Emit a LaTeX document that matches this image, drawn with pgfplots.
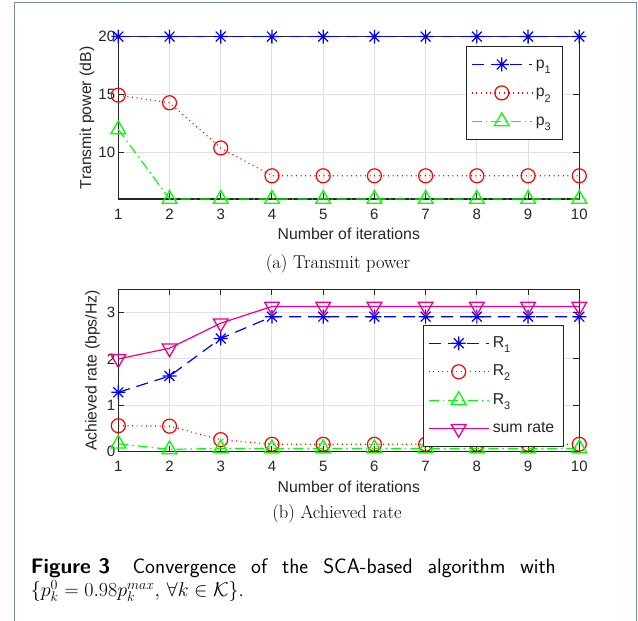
\RequirePackage{fix-cm}
\documentclass[border=0pt]{standalone}
\usepackage{pgfplots}
\pgfplotsset{compat=1.18}
\usepackage{fontspec}
\newfontfamily\arial{Liberation Sans}
\definecolor{axc}{RGB}{38,38,38}
\definecolor{gridc}{RGB}{224,224,224}
\definecolor{framec}{RGB}{120,138,165}
\pgfdeclareplotmark{mstar}{%
  \pgfpathmoveto{\pgfqpoint{0pt}{\pgfplotmarksize}}\pgfpathlineto{\pgfqpoint{0pt}{-\pgfplotmarksize}}%
  \pgfpathmoveto{\pgfqpoint{\pgfplotmarksize}{0pt}}\pgfpathlineto{\pgfqpoint{-\pgfplotmarksize}{0pt}}%
  \pgfpathmoveto{\pgfqpoint{.7071\pgfplotmarksize}{.7071\pgfplotmarksize}}\pgfpathlineto{\pgfqpoint{-.7071\pgfplotmarksize}{-.7071\pgfplotmarksize}}%
  \pgfpathmoveto{\pgfqpoint{.7071\pgfplotmarksize}{-.7071\pgfplotmarksize}}\pgfpathlineto{\pgfqpoint{-.7071\pgfplotmarksize}{.7071\pgfplotmarksize}}%
  \pgfusepathqstroke}
\newcommand{\lsub}[2]{#1\raisebox{-0.32em}{\fontsize{11}{11}\selectfont #2}}

\pgfplotstableread{
it p1 p2 p3
1 20 14.95 12.0
2 20 14.3 6.0
3 20 10.4 6.0
4 20 8.0 6.0
5 20 8.0 6.0
6 20 8.0 6.0
7 20 8.0 6.0
8 20 8.0 6.0
9 20 8.0 6.0
10 20 8.0 6.0
}\powtab
\pgfplotstableread{
it R1 R2 R3 sum
1 1.28 0.56 0.17 2.00
2 1.63 0.55 0.05 2.23
3 2.44 0.26 0.07 2.77
4 2.91 0.16 0.07 3.13
5 2.91 0.16 0.07 3.13
6 2.91 0.16 0.07 3.13
7 2.91 0.16 0.07 3.13
8 2.91 0.16 0.07 3.13
9 2.91 0.16 0.07 3.13
10 2.91 0.16 0.07 3.13
}\ratetab

\pgfplotsset{
  mystyle/.style={
    scale only axis, width=461pt, height=162.4pt,
    xmin=1, xmax=10, xtick={1,...,10},
    axis line style={axc, line width=1.3pt},
    tick style={axc, line width=1.0pt}, major tick length=6pt,
    tick align=inside, tick pos=both,
    grid=major, major grid style={gridc, line width=1pt},
    /pgf/number format/assume math mode=true,
    ticklabel style={font=\arial\fontsize{15}{15}\selectfont, text=axc},
    xticklabel style={anchor=base, yshift=-20.3pt},
    yticklabel style={anchor=east, inner xsep=0pt, xshift=-3pt},
    label style={font=\arial\fontsize{15.8}{16}\selectfont, text=axc},
    xlabel style={at={(axis description cs:0.5,-0.25)}, anchor=base},
    legend style={font=\arial\fontsize{15.8}{16}\selectfont, draw=axc, line width=1.2pt, text=axc,
      inner xsep=4.7pt, inner ysep=3.7pt, row sep=0pt, column sep=3.5pt,
      nodes={inner sep=0pt, text height=18.3pt, text depth=10.2pt}},
    legend cell align=left,
    legend image code/.code={\draw[mark repeat=2,mark phase=2] plot coordinates {(0pt,0pt)(30pt,0pt)(60pt,0pt)};},
    clip=false,
  },
  sblue/.style={color=blue, draw=blue, line width=1.2pt, dash pattern=on 12pt off 7pt, mark=mstar, mark size=7pt, mark options={solid, line width=1.2pt}},
  sred/.style={color=red, draw=red, line width=1.2pt, dash pattern=on 1pt off 3.6pt, mark=o, mark size=7pt, mark options={solid, line width=1.2pt}},
  sgreen/.style={color=green, draw=green, line width=1.2pt, dash pattern=on 10pt off 4pt on 1.5pt off 4pt, mark=triangle, mark size=8.5pt, mark options={solid, line width=1.3pt}},
  smag/.style={color=magenta, draw=magenta, line width=1.2pt, solid, mark=triangle, mark size=8.5pt, mark options={solid, line width=1.3pt, rotate=180}},
}

\begin{document}
\begin{tikzpicture}[x=1pt,y=1pt]
\useasboundingbox (0,0) rectangle (638,621);
\fill[white] (0,0) rectangle (638,621);
\draw[framec, line width=1pt] (14,-2) -- (14,618) -- (636.5,618) -- (636.5,-2);

% top axis
\begin{axis}[mystyle, at={(118.3pt,422pt)}, anchor=south west,
  ymin=6, ymax=20, ytick={10,15,20},
  xlabel={Number of iterations},
  ylabel={Transmit power (dB)},
  ylabel style={at={(axis description cs:-0.0679,0.5)}, anchor=center},
  legend style={at={(0.965,0.943)}, anchor=north east}]
\addplot[sblue] table[x=it,y=p1] {\powtab};
\addlegendentry{\makebox[22pt][l]{\lsub{p}{1}}}
\addplot[sred] table[x=it,y=p2] {\powtab};
\addlegendentry{\makebox[22pt][l]{\lsub{p}{2}}}
\addplot[sgreen] table[x=it,y=p3] {\powtab};
\addlegendentry{\makebox[22pt][l]{\lsub{p}{3}}}
\end{axis}

% bottom axis
\begin{axis}[mystyle, at={(118.3pt,169.3pt)}, anchor=south west,
  ymin=0, ymax=3.5, ytick={0,1,2,3},
  xlabel={Number of iterations},
  ylabel={Achieved rate (bps/Hz)},
  ylabel style={at={(axis description cs:-0.056,0.5)}, anchor=center},
  legend style={at={(0.967,0.027)}, anchor=south east}]
\addplot[sblue] table[x=it,y=R1] {\ratetab};
\addlegendentry{\makebox[66pt][l]{\lsub{R}{1}}}
\addplot[sred] table[x=it,y=R2] {\ratetab};
\addlegendentry{\makebox[66pt][l]{\lsub{R}{2}}}
\addplot[sgreen] table[x=it,y=R3] {\ratetab};
\addlegendentry{\makebox[66pt][l]{\lsub{R}{3}}}
\addplot[smag] table[x=it,y=sum] {\ratetab};
\addlegendentry{\makebox[66pt][l]{sum rate}}
\end{axis}

% sub-captions
\node[anchor=base, inner sep=0pt, font=\fontsize{18.5}{20}\selectfont] at (338,352.5) {(a) Transmit power};
\node[anchor=base, inner sep=0pt, font=\fontsize{18.5}{20}\selectfont] at (337,102.5) {(b) Achieved rate};

% figure caption
\node[anchor=base west, inner sep=0pt, font=\sffamily\fontsize{21}{22}\selectfont] at (30.7,47)
  {\makebox[525pt][s]{\mbox{\textbf{Figure 3}}\hspace{0.35em} Convergence of the SCA-based algorithm with}};
\node[anchor=base west, inner sep=0pt, font=\fontsize{20}{22}\selectfont] at (30.7,24.5)
  {$\{p_k^0=0.98p_k^{max},\,\forall k\in\mathcal{K}\}$\sffamily.};
\end{tikzpicture}
\end{document}
